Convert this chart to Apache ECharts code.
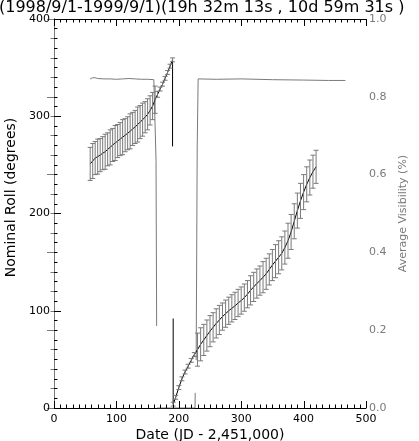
<!DOCTYPE html>
<html lang="en">
<head>
<meta charset="UTF-8">
<title>Nominal Roll</title>
<script src="https://cdn.jsdelivr.net/npm/echarts@6/dist/echarts.min.js"></script>
<style>
  html, body { margin: 0; padding: 0; background: #fff; }
  #main { width: 419px; height: 441px; }
</style>
</head>
<body>
<div id="main"></div>
<script>
// nominal roll (left axis), one error bar per point; null = pen up
var rollDays = [58, 62, 66, 70, 74, 78, 82, 86, 90, 94, 98, 102, 106, 110, 114, 118, 122, 126, 130, 134,
    138, 142, 146, 150, 154, 158, 162, 166, 170, 174, 178, 182, 186, 190,
    190, 190.5, 191,
    191, 195, 200, 205, 210, 215, 220, 225, 230, 235, 240, 245, 250, 255, 260, 265, 270, 275, 280, 285,
    290, 295, 300, 305, 310, 315, 320, 325, 330, 335, 340, 345, 350, 355, 360, 365, 370, 375, 380, 385,
    390, 395, 400, 405, 410, 415, 420];
var rollValues = [251, 254, 257, 258.5, 260, 262, 263.5, 266, 268, 270.5, 272.5, 274.5, 276.5, 278.5, 280.5, 282.5, 284.5, 287, 289, 291.5,
    294, 296.5, 299, 302, 306, 310.5, 317, 322.5, 328, 333, 339, 345, 351.5, 358,
    269, null, 92,
    4, 11, 21, 30, 37, 43, 49, 55, 60, 65.5, 70, 74.5, 79, 83, 87, 90.5, 94, 97, 100, 102.5,
    105, 108, 110.5, 113.5, 117, 121, 124.5, 128, 131, 134.5, 138, 142.5, 147, 151, 155, 159, 165, 172, 181, 192,
    203, 213, 222, 230, 237, 243, 248];
var rollErrors = [17, 18, 17, 18, 17, 17, 18, 17, 18, 17, 18, 17, 17, 18, 17, 17, 18, 17, 17, 18,
    17, 17, 16, 16, 15, 14, 14, 3, 2, 2, 2, 2, 2, 2,
    null, null, null,
    2, 2, 2, 2, 2, 2, 2, 2, 17, 17, 16, 16, 16, 15, 15, 15, 14, 14, 14, 14,
    14, 14, 14, 14, 14, 15, 15, 15, 15, 16, 16, 16, 16, 17, 17, 17, 17, 18, 18, 18,
    18, 18, 18, 18, 18, 17, 17];

// average visibility (right axis)
var visDays = [58, 62, 66, 70, 80, 90, 100, 110, 120, 130, 140, 150, 160, 163, 163.5, 164.5,
    164.8, 165, 226, 226.3, 227, 227.8, 228.5, 229.5, 231, 260, 300, 350, 400, 440, 467];
var visValues = [0.846, 0.849, 0.849, 0.847, 0.846, 0.846, 0.845, 0.846, 0.847, 0.846, 0.845, 0.845, 0.844, 0.844, 0.637, 0.211,
    null, 0, 0, 0.039, null, 0.123, 0.334, 0.673, 0.846, 0.845, 0.846, 0.844, 0.843, 0.842, 0.842];

var xTicks = [0, 100, 200, 300, 400, 500];
var rollTicks = [0, 100, 200, 300, 400];
var FONT = 'DejaVu Sans';
var GREY = '#7a7a7a';

function pairs(xs, ys) {
    var out = [];
    for (var i = 0; i < xs.length; i++) {
        out.push([xs[i], ys[i] === null ? '-' : ys[i]]);
    }
    return out;
}

var barData = [];
for (var i = 0; i < rollDays.length; i++) {
    if (rollValues[i] !== null && rollErrors[i] !== null) {
        barData.push([rollDays[i], rollValues[i] - rollErrors[i], rollValues[i] + rollErrors[i]]);
    }
}

function renderBar(params, api) {
    var lo = api.coord([api.value(0), api.value(1)]);
    var hi = api.coord([api.value(0), api.value(2)]);
    var w = 2.5;
    var st = { stroke: GREY, lineWidth: 1 };
    return {
        type: 'group',
        children: [
            { type: 'line', shape: { x1: lo[0], y1: lo[1], x2: hi[0], y2: hi[1] }, style: st },
            { type: 'line', shape: { x1: lo[0] - w, y1: lo[1], x2: lo[0] + w, y2: lo[1] }, style: st },
            { type: 'line', shape: { x1: hi[0] - w, y1: hi[1], x2: hi[0] + w, y2: hi[1] }, style: st }
        ]
    };
}

var yLo = rollTicks[0], yHi = rollTicks[rollTicks.length - 1];

// same rectangle twice: grid 0 = bottom/left axes, grid 1 = top/right axes
var gridBox = { left: 54, right: 53, top: 19, bottom: 33, outerBoundsMode: 'none' };

var myChart = echarts.init(document.getElementById('main'));
var option = {
    animation: false,
    backgroundColor: '#fff',
    title: {
        text: '(1998/9/1-1999/9/1)(19h 32m 13s , 10d 59m 31s )',
        left: -1, top: 0, padding: 0,
        textStyle: { fontFamily: FONT, fontSize: 16, fontWeight: 'normal', color: '#000' }
    },
    grid: [Object.assign({}, gridBox), Object.assign({}, gridBox)],
    xAxis: [
        {
            gridIndex: 0, type: 'value', position: 'bottom',
            min: xTicks[0], max: xTicks[xTicks.length - 1], interval: 100,
            name: 'Date (JD - 2,451,000)', nameLocation: 'middle', nameGap: 20, nameMoveOverlap: false,
            nameTextStyle: { fontFamily: FONT, fontSize: 14, color: '#000' },
            axisLine: { lineStyle: { color: '#000' } },
            axisTick: { show: false },
            minorTick: { show: false },
            axisLabel: { margin: 6, fontFamily: FONT, fontSize: 11, color: '#000' },
            splitLine: { show: false }
        },
        {
            gridIndex: 1, type: 'value', position: 'top',
            min: xTicks[0], max: xTicks[xTicks.length - 1], interval: 100,
            axisLine: { onZero: false, lineStyle: { color: '#000' } },
            axisTick: { show: false },
            minorTick: { show: false },
            axisLabel: { show: false },
            splitLine: { show: false }
        }
    ],
    yAxis: [
        {
            gridIndex: 0, type: 'value', min: yLo, max: yHi, interval: 100, position: 'left',
            name: 'Nominal Roll (degrees)', nameLocation: 'middle', nameGap: 27, nameRotate: 90,
            nameTextStyle: { fontFamily: FONT, fontSize: 14, color: '#000', padding: [0, 0, 0, 32] },
            axisLine: { show: true, lineStyle: { color: '#000' } },
            axisTick: { show: true, inside: true, length: 7, lineStyle: { color: '#000' } },
            minorTick: { show: true, splitNumber: 10, length: 3.5, lineStyle: { color: '#000' } },
            axisLabel: { margin: 4, fontFamily: FONT, fontSize: 11, color: '#000' },
            splitLine: { show: false }
        },
        {
            gridIndex: 1, type: 'value', min: 0, max: 1, interval: 0.2, position: 'right',
            name: 'Average Visibility (%)', nameLocation: 'middle', nameGap: 23, nameRotate: 90,
            nameTextStyle: { fontFamily: FONT, fontSize: 11, color: GREY },
            axisLine: { show: true, lineStyle: { color: GREY } },
            axisTick: { show: true, inside: true, length: 7, lineStyle: { color: GREY } },
            minorTick: { show: true, splitNumber: 4, length: 3.5, lineStyle: { color: GREY } },
            axisLabel: {
                margin: 3, fontFamily: FONT, fontSize: 11, color: GREY,
                formatter: function (v) { return v.toFixed(1); }
            },
            splitLine: { show: false }
        }
    ],
    series: [
        {
            name: 'Average Visibility', type: 'line', xAxisIndex: 1, yAxisIndex: 1,
            data: pairs(visDays, visValues), showSymbol: false, connectNulls: false,
            lineStyle: { color: GREY, width: 1 }, z: 2
        },
        {
            name: 'Nominal Roll', type: 'line', xAxisIndex: 0, yAxisIndex: 0,
            data: pairs(rollDays, rollValues), showSymbol: false, connectNulls: false,
            lineStyle: { color: '#000', width: 1 }, z: 3
        },
        {
            name: 'Roll error', type: 'custom', xAxisIndex: 0, yAxisIndex: 0,
            data: barData, renderItem: renderBar, z: 4,
            encode: { x: 0, y: [1, 2] }
        }
    ]
};
myChart.setOption(option);

// date-axis ticks on the bottom and top frame edges, placed through the grid's scales
var tickEls = [];
var finder = { xAxisIndex: 0, yAxisIndex: 0 };
for (var k = 0; k < xTicks.length; k++) {
    var steps = k < xTicks.length - 1 ? 10 : 1;
    for (var m = 0; m < steps; m++) {
        var v = xTicks[k] + (k < xTicks.length - 1 ? (xTicks[k + 1] - xTicks[k]) * m / 10 : 0);
        var len = m === 0 ? 7 : 3.5;
        var b = myChart.convertToPixel(finder, [v, yLo]);
        var t = myChart.convertToPixel(finder, [v, yHi]);
        var x = Math.round(b[0]) + 0.5;
        tickEls.push({ type: 'line', silent: true, z: 100,
            shape: { x1: x, y1: b[1], x2: x, y2: b[1] - len }, style: { stroke: '#000', lineWidth: 1 } });
        tickEls.push({ type: 'line', silent: true, z: 100,
            shape: { x1: x, y1: t[1], x2: x, y2: t[1] + len }, style: { stroke: '#000', lineWidth: 1 } });
    }
}
myChart.setOption({ graphic: { elements: tickEls } });
</script>
</body>
</html>
